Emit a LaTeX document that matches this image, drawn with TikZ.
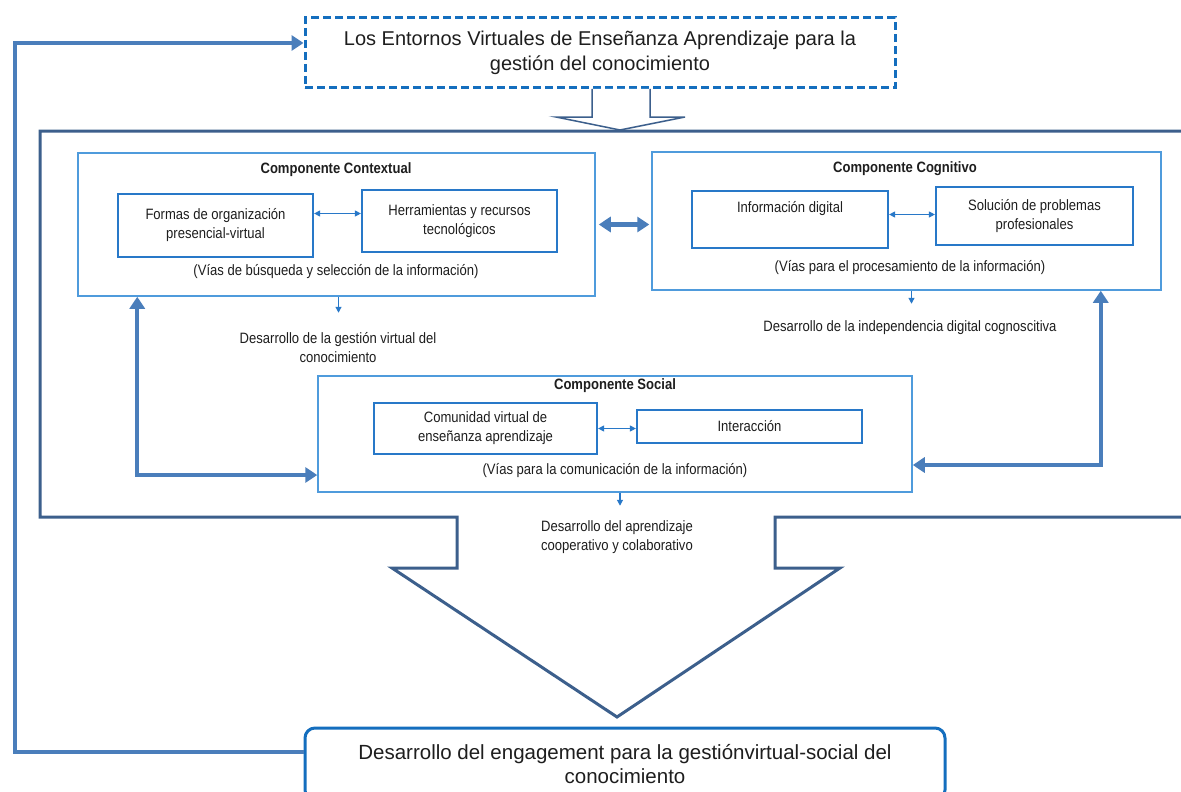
\documentclass[tikz,border=0pt]{standalone}
\usepackage{fontspec}
\setmainfont{Liberation Sans}
\newfontfamily\cond[FakeStretch=0.87]{Liberation Sans}
\usetikzlibrary{arrows.meta}
\definecolor{contc}{RGB}{79,155,220}
\definecolor{innerc}{RGB}{40,120,200}
\definecolor{fatc}{RGB}{74,126,187}
\definecolor{framec}{RGB}{60,95,140}
\definecolor{dashc}{RGB}{20,110,190}
\definecolor{txt}{RGB}{30,30,30}
\tikzset{
  container/.style={draw=contc, line width=1.5pt, fill=white, inner sep=0pt},
  innerbox/.style={draw=innerc, line width=2.2pt, fill=white, align=center, inner sep=0pt, text=txt, font=\cond\fontsize{15}{19}\selectfont},
  lbl/.style={align=center, inner sep=0pt, text=txt, font=\cond\fontsize{15}{19}\selectfont},
  ttl/.style={align=center, inner sep=0pt, text=txt, font=\cond\bfseries\fontsize{15}{19}\selectfont},
  fat/.style={draw=fatc, line width=4.2pt},
  fattip/.tip={Triangle[length=12pt,width=15pt]},
  tinytip/.tip={Triangle[length=6pt,width=6pt]},
  thin/.style={draw=innerc, line width=1.2pt},
  bigtext/.style={align=center, text=txt, font=\fontsize{20}{24.5}\selectfont},
}
\begin{document}
\begin{tikzpicture}[x=1pt,y=-1pt]
\useasboundingbox (0,0) rectangle (1181,792);
% outer frame with big arrow
\draw[framec, line width=3pt, fill=white, line join=miter]
  (1190,517) -- (775,517) -- (775,568) -- (840,568) -- (617,717) -- (392,568)
  -- (457,568) -- (457,517) -- (40,517) -- (40,131) -- (1190,131);
% top box
\node[draw=dashc, line width=3pt, dash pattern=on 8pt off 4pt, minimum width=590pt, minimum height=70pt, bigtext] (top) at (600,53) {Los Entornos Virtuales de Enseñanza Aprendizaje para la\\gestión del conocimiento};
% hollow arrow
\draw[framec, line width=1.5pt, fill=white] (592,89) -- (592,117) -- (556,117) -- (620,130) -- (685,117) -- (650,117) -- (650,89);
% bottom box
\node[draw=dashc, line width=3pt, rounded corners=10pt, minimum width=640pt, minimum height=72pt, bigtext, font=\fontsize{20.5}{24.5}\selectfont, fill=white] (bot) at (625,764) {Desarrollo del engagement para la gestiónvirtual-social del\\conocimiento};
% containers
\node[container, minimum width=517pt, minimum height=143pt] (ctx) at (336.5,224.5) {};
\node[container, minimum width=509pt, minimum height=138pt] (cog) at (906.5,221) {};
\node[container, minimum width=594pt, minimum height=116pt] (soc) at (615,434) {};
% titles
\node[ttl] (t1) at (336,170) {Componente Contextual};
\node[ttl] (t2) at (905,169) {Componente Cognitivo};
\node[ttl] (t3) at (615,386) {Componente Social};
% inner boxes
\node[innerbox, minimum width=195pt, minimum height=63pt] (forma) at (215.5,225.5) {Formas de organización\\presencial-virtual};
\node[innerbox, minimum width=195pt, minimum height=62pt] (herr) at (459.5,221) {Herramientas y recursos\\tecnológicos};
\node[innerbox, minimum width=196pt, minimum height=57pt] (info) at (790,219.5) {Información digital\\\strut};
\node[innerbox, minimum width=197pt, minimum height=58pt] (sol) at (1034.5,216) {Solución de problemas\\profesionales};
\node[innerbox, minimum width=223pt, minimum height=51pt] (com) at (485.5,428.5) {Comunidad virtual de\\enseñanza aprendizaje};
\node[innerbox, minimum width=225pt, minimum height=33pt] (inter) at (749.5,426.5) {Interacción};
% subtitles
\node[lbl] (s1) at (336,272) {(Vías de búsqueda y selección de la información)};
\node[lbl] (s2) at (910,268) {(Vías para el procesamiento de la información)};
\node[lbl] (s3) at (615,471) {(Vías para la comunicación de la información)};
% development labels
\node[lbl] (d1) at (338,347.5) {Desarrollo de la gestión virtual del\\conocimiento};
\node[lbl] (d2) at (910,328) {Desarrollo de la independencia digital cognoscitiva};
\node[lbl] (d3) at (617,537.5) {Desarrollo del aprendizaje\\cooperativo y colaborativo};
% small arrows
\draw[thin, {tinytip}-{tinytip}] ([yshift=12pt]forma.east) -- ([yshift=12pt]forma.east -| herr.west);
\draw[thin, {tinytip}-{tinytip}] ([yshift=5pt]info.east) -- ([yshift=5pt]info.east -| sol.west);
\draw[thin, {tinytip}-{tinytip}] (com.east) -- (com.east -| inter.west);
\draw[thin, -{tinytip}] ([xshift=2pt]ctx.south) -- ([xshift=2pt,yshift=-16pt]ctx.south);
\draw[thin, -{tinytip}] ([xshift=5pt]cog.south) -- ([xshift=5pt,yshift=-13pt]cog.south);
\draw[thin, -{tinytip}] ([xshift=5pt]soc.south) -- ([xshift=5pt,yshift=-13pt]soc.south);
% thick arrows
\draw[fat, {fattip}-{fattip}] ([xshift=3pt]ctx.east) -- ([xshift=-2pt]ctx.east -| cog.west);
\draw[fat, {fattip}-{fattip}] ([xshift=60pt]ctx.south west) |- ([yshift=-41pt]soc.west);
\draw[fat, {fattip}-{fattip}] ([xshift=-61pt]cog.south east) |- ([yshift=-31pt]soc.east);
\coordinate (fb) at (15,752);
\draw[fat, -{fattip}, line join=miter] ([yshift=12pt]bot.west) -- (fb) |- ([yshift=10pt]top.west);
\end{tikzpicture}
\end{document}
